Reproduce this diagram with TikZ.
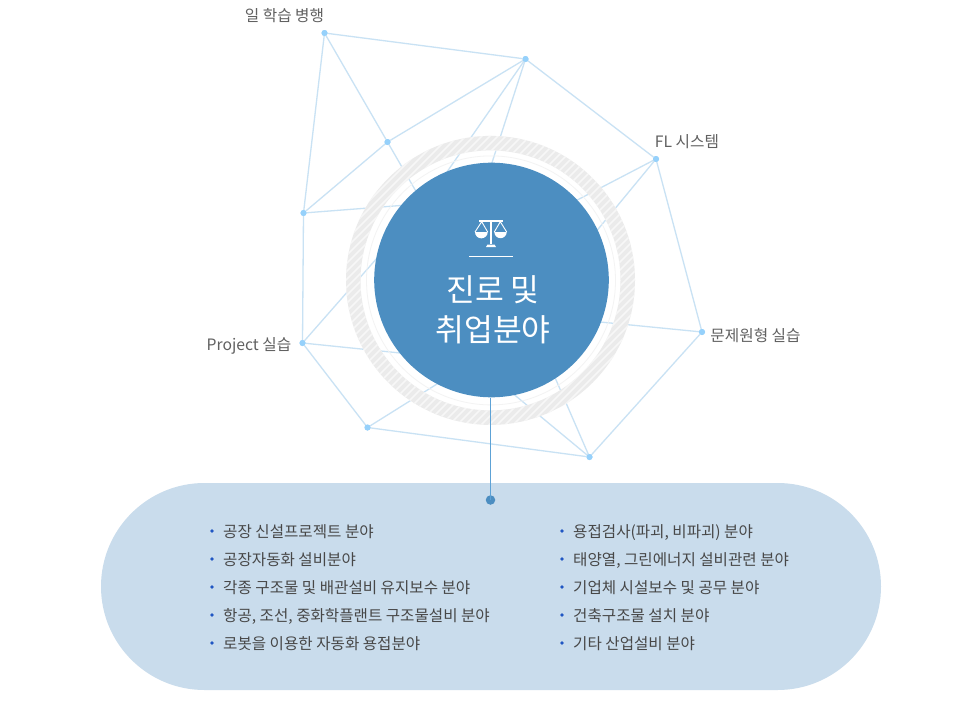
\documentclass[tikz,border=0pt]{standalone}
\usepackage{fontspec}
\setmainfont{Noto Sans CJK KR}
\usetikzlibrary{calc}
\definecolor{linkc}{HTML}{C9E2F4}
\definecolor{dotc}{HTML}{96D1FB}
\definecolor{hubc}{HTML}{4C8EC1}
\definecolor{pillc}{HTML}{C9DCEC}
\definecolor{ringc}{HTML}{EBEBEB}
\definecolor{stemc}{HTML}{5DA2D6}
\definecolor{bulc}{HTML}{1F56C3}
\tikzset{
  link/.style={draw=linkc,line width=1.3pt},
  vertex/.style={circle,fill=dotc,inner sep=0pt,minimum size=6pt},
  lab/.style={text=black!62,font=\fontsize{15.7}{17}\selectfont,inner sep=0pt},
  item/.style={anchor=base west,text=black!72,font=\fontsize{15.6}{17}\selectfont,inner sep=0pt},
  bul/.style={circle,fill=bulc,inner sep=0pt,minimum size=3.8pt},
}
\begin{document}
\begin{tikzpicture}[x=1pt,y=-1pt]
\useasboundingbox (0,0) rectangle (980,712);
\fill[white] (0,0) rectangle (980,712);
% pill
\node[fill=pillc,rounded corners=103.5pt,minimum width=780pt,minimum height=207pt,inner sep=0pt] (pill) at (491,586.5) {};
% vertices
\node[vertex] (a) at (324.5,33) {};
\node[vertex] (b) at (525.5,59) {};
\node[vertex] (c) at (387.5,142) {};
\node[vertex] (d) at (303.5,213) {};
\node[vertex] (e) at (656,159) {};
\node[vertex] (f) at (702,332) {};
\node[vertex] (g) at (302.5,343) {};
\node[vertex] (h) at (367.5,427.5) {};
\node[vertex] (i) at (589.5,457) {};
% hidden ends under the hub
\coordinate (c1) at (425,207);
\coordinate (d1) at (420,204);
\coordinate (b1) at (440,182);
\coordinate (b2) at (488,175);
\coordinate (e1) at (560,209);
\coordinate (e2) at (585,245);
\coordinate (f1) at (590,321);
\coordinate (i1) at (505,387);
\coordinate (i2) at (550,366);
\coordinate (h1) at (445,379);
\coordinate (g1) at (410,354);
\coordinate (g2) at (385,249);
% connectors
\foreach \p/\q in {a/b,a/d,a/c,b/c,c/d,b/e,e/f,d/g,g/h,h/i,i/f,c/c1,d/d1,b/b1,b/b2,e/e1,e/e2,f/f1,i/i1,i/i2,h/h1,g/g1,g/g2}
  \draw[link] (\p.center) -- (\q);
\foreach \p in {a,b,c,d,e,f,g,h,i}
  \fill[dotc] (\p) circle[radius=3pt];
% hatched ring
\begin{scope}[even odd rule]
  \clip (490.5,280.4) circle[radius=144.5pt] (490.5,280.4) circle[radius=130pt];
  \fill[white] (340,130) rectangle (640,430);
  \fill[ringc] (340,130) rectangle (640,430);
  \foreach \k in {-304,-296,...,304}
    \draw[white!60!ringc,line width=1.7pt] (340+\k,430) -- (640+\k,130);
\end{scope}
\draw[ringc!60!white,line width=.8pt] (491,280.4) circle[radius=124.5pt];
% stem
\node[circle,fill=hubc,inner sep=0pt,minimum size=234.6pt] (hub) at (491.5,280) {};
\node[circle,fill=hubc,inner sep=0pt,minimum size=9.5pt] (stemdot) at (490.5,500) {};
\draw[stemc,line width=1.4pt] (hub.south) ++(-1,0) -- (stemdot.center);
% scales icon
\begin{scope}[white]
  \fill (490.2,220) rectangle (491.8,244);
  \fill (479,220) rectangle (503,221.6);
  \fill (486,247) -- (487.5,244.5) -- (494.5,244.5) -- (496,247) -- cycle;
  \draw[line width=.9pt,line join=round] (475,232) -- (481.7,221.7) -- (487.7,232);
  \draw[line width=.9pt,line join=round] (494.3,232) -- (500.3,221.7) -- (506.7,232);
  \fill (475,232) -- (487.7,232) arc[start angle=0,end angle=-180,radius=6.35pt] -- cycle;
  \fill (494.3,232) -- (506.7,232) arc[start angle=0,end angle=-180,radius=6.2pt] -- cycle;
  \fill (469,255.8) rectangle (513,256.8);
\end{scope}
\node[text=white,font=\fontsize{31.3}{40}\selectfont,align=center,inner sep=0pt] (title) at (493,310) {진로 및\\취업분야};
% labels
\node[lab] (la) at (284.5,16) {일 학습 병행};
\node[lab] (le) at (687,141.5) {FL 시스템};
\node[lab] (lf) at (755.5,335.5) {문제원형 실습};
\node[lab] (lg) at (249,345.5) {Project 실습};
% list
\foreach \n/\y/\t in {1/531/공장 신설프로젝트 분야,2/559/공장자동화 설비분야,3/587/각종 구조물 및 배관설비 유지보수 분야,4/615/항공{,} 조선{,} 중화학플랜트 구조물설비 분야,5/643/로봇을 이용한 자동화 용접분야}{
  \node[bul] (lb\n) at (212,\y) {};
  \node[item] (lt\n) at (223,\y+6.2) {\t};
}
\foreach \n/\y/\t in {1/531/용접검사(파괴{,} 비파괴) 분야,2/559/태양열{,} 그린에너지 설비관련 분야,3/587/기업체 시설보수 및 공무 분야,4/615/건축구조물 설치 분야,5/643/기타 산업설비 분야}{
  \node[bul] (rb\n) at (562,\y) {};
  \node[item] (rt\n) at (573,\y+6.2) {\t};
}
\end{tikzpicture}
\end{document}
